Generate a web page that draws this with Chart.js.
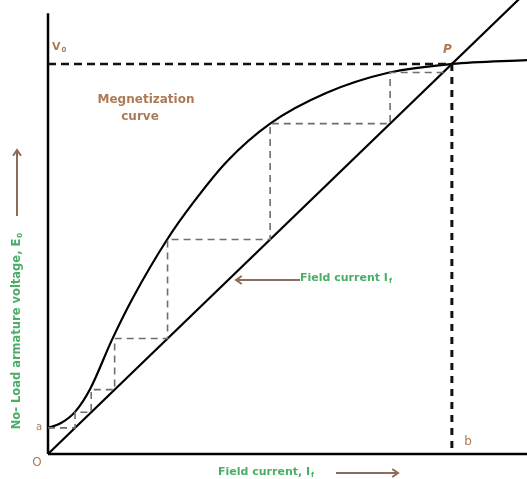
<!DOCTYPE html>
<html>
<head>
<meta charset="utf-8">
<script src="https://cdn.jsdelivr.net/npm/chart.js@4.4.0/dist/chart.umd.min.js"></script>
<style>
  html, body { margin: 0; padding: 0; background: #fff; }
  #wrap { width: 527px; height: 479px; }
</style>
</head>
<body>
<div id="wrap"><canvas id="chart" width="527" height="479"></canvas></div>
<script>
// magnetization curve (field current, emf), P = (100, 100)
const curveX = [0, 3, 6.7, 10.5, 15.8, 21, 29.5, 36, 44.3, 55, 69, 84.5, 100, 118.6];
const curveY = [6.7, 7.8, 10.8, 16.8, 29.2, 40, 55, 64.5, 75, 84.7, 92.6, 97.8, 100, 101];

// field resistance line through origin and P
const lineX = [0, 118.6];
const lineY = [0, 118.6];

// build-up staircase between line and curve
const stairX = [0, 6.7, 6.7, 10.7, 10.7, 16.5, 16.5, 29.6, 29.6, 55, 55, 84.7, 84.7, 98];
const stairY = [6.7, 6.7, 10.7, 10.7, 16.5, 16.5, 29.6, 29.6, 55, 55, 84.7, 84.7, 97.8, 97.8];

const pointP = [100, 100];
const xMax = 118.6, yMax = 116.4, yAxisTop = 113;

const toPts = (xs, ys) => xs.map((x, i) => ({ x: x, y: ys[i] }));

const brown = '#ad7a55';
const green = '#4aae66';
const arrowCol = '#8c6d5a';
const FONT = '"DejaVu Sans", "Liberation Sans", sans-serif';

function arrow(ctx, x1, y1, x2, y2) {
    ctx.save();
    ctx.strokeStyle = arrowCol;
    ctx.lineWidth = 2;
    ctx.beginPath();
    ctx.moveTo(x1, y1);
    ctx.lineTo(x2, y2);
    ctx.stroke();
    const a = Math.atan2(y2 - y1, x2 - x1);
    ctx.beginPath();
    ctx.moveTo(x2 - 7 * Math.cos(a - 0.6), y2 - 7 * Math.sin(a - 0.6));
    ctx.lineTo(x2, y2);
    ctx.lineTo(x2 - 7 * Math.cos(a + 0.6), y2 - 7 * Math.sin(a + 0.6));
    ctx.stroke();
    ctx.restore();
}

// text with a small subscript after it
function subText(ctx, main, sub, x, y, size) {
    ctx.font = 'bold ' + size + 'px ' + FONT;
    ctx.fillText(main, x, y);
    const w = ctx.measureText(main).width;
    ctx.font = 'bold ' + Math.round(size * 0.6) + 'px ' + FONT;
    ctx.fillText(sub, x + w + 1, y + size * 0.25);
}

const labels = {
    id: 'labels',
    afterDraw(chart) {
        const ctx = chart.ctx;
        ctx.save();
        ctx.textBaseline = 'middle';
        ctx.textAlign = 'left';

        ctx.fillStyle = brown;
        subText(ctx, 'V', '0', 52, 47, 11);
        ctx.font = 'italic bold 12px ' + FONT;
        ctx.fillText('P', 443, 50);
        ctx.font = 'bold 12px ' + FONT;
        ctx.textAlign = 'center';
        ctx.fillText('Megnetization', 146, 100);
        ctx.fillText('curve', 140, 117);
        ctx.font = '10px ' + FONT;
        ctx.fillText('a', 39, 427);
        ctx.font = '12px ' + FONT;
        ctx.fillText('O', 37, 463);
        ctx.fillText('b', 468, 442);

        // field current label and arrow in the middle
        ctx.textAlign = 'left';
        ctx.fillStyle = green;
        subText(ctx, 'Field current I', 'f', 300, 278, 11);
        arrow(ctx, 300, 280, 236, 280);

        // bottom axis title
        subText(ctx, 'Field current, I', 'f', 218, 472, 11);
        arrow(ctx, 336, 473, 398, 473);

        // vertical axis title
        ctx.save();
        ctx.translate(17, 331);
        ctx.rotate(-Math.PI / 2);
        ctx.font = 'bold 11.5px ' + FONT;
        const t = 'No- Load armature voltage, E';
        const w = ctx.measureText(t).width;
        ctx.fillText(t, -w / 2 - 3, 0);
        ctx.font = 'bold 7px ' + FONT;
        ctx.fillText('0', w / 2 - 2, 3);
        ctx.restore();
        arrow(ctx, 17, 216, 17, 150);
        ctx.restore();
    }
};

new Chart(document.getElementById('chart'), {
    type: 'scatter',
    data: {
        datasets: [
            {
                label: 'staircase',
                data: toPts(stairX, stairY),
                showLine: true,
                borderColor: '#6e6e6e',
                borderWidth: 1.6,
                borderDash: [7, 5],
                pointRadius: 0
            },
            {
                label: 'V0',
                data: [{ x: 0, y: pointP[1] }, { x: pointP[0], y: pointP[1] }],
                showLine: true,
                borderColor: '#111',
                borderWidth: 2.5,
                borderDash: [8, 5],
                pointRadius: 0
            },
            {
                label: 'b',
                data: [{ x: pointP[0], y: pointP[1] }, { x: pointP[0], y: 0 }],
                showLine: true,
                borderColor: '#111',
                borderWidth: 3,
                borderDash: [7, 6],
                pointRadius: 0
            },
            {
                label: 'field resistance line',
                data: toPts(lineX, lineY),
                showLine: true,
                borderColor: '#000',
                borderWidth: 2.2,
                pointRadius: 0
            },
            {
                label: 'magnetization curve',
                data: toPts(curveX, curveY),
                showLine: true,
                cubicInterpolationMode: 'monotone',
                borderColor: '#000',
                borderWidth: 2.2,
                pointRadius: 0
            },
            {
                label: 'x axis',
                data: [{ x: 0, y: 0 }, { x: xMax, y: 0 }],
                showLine: true,
                borderColor: '#000',
                borderWidth: 2.5,
                pointRadius: 0
            },
            {
                label: 'y axis',
                data: [{ x: 0, y: 0 }, { x: 0, y: yAxisTop }],
                showLine: true,
                borderColor: '#000',
                borderWidth: 2.5,
                pointRadius: 0
            }
        ]
    },
    options: {
        responsive: false,
        animation: false,
        clip: false,
        layout: { padding: { left: 48, right: 0, top: 0, bottom: 25 } },
        plugins: { legend: { display: false }, tooltip: { enabled: false } },
        scales: {
            x: { type: 'linear', min: 0, max: xMax, display: false },
            y: { type: 'linear', min: 0, max: yMax, display: false }
        }
    },
    plugins: [labels]
});
</script>
</body>
</html>
